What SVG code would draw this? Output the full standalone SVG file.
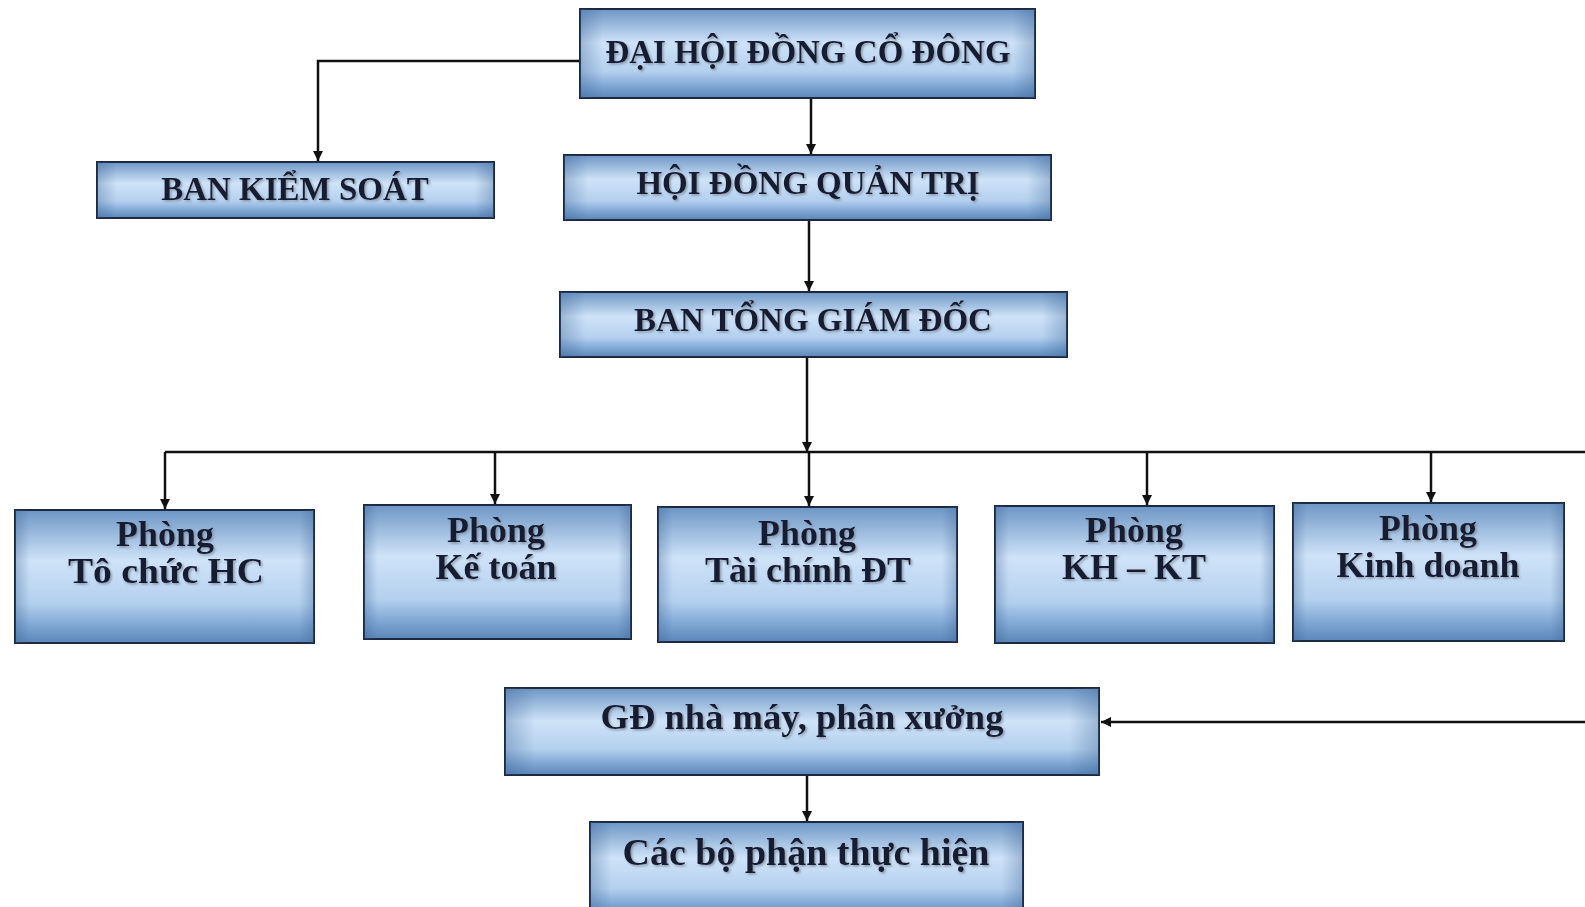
<svg xmlns="http://www.w3.org/2000/svg" width="1585" height="907" viewBox="0 0 1585 907">
<defs>
<linearGradient id="g" x1="0" y1="0" x2="0" y2="1">
<stop offset="0" stop-color="#6d96c5"/>
<stop offset="0.38" stop-color="#cfe3f8"/>
<stop offset="0.7" stop-color="#b4d0ee"/>
<stop offset="0.85" stop-color="#84abd7"/>
<stop offset="1" stop-color="#5b86b8"/>
</linearGradient>
<linearGradient id="h" x1="0" y1="0" x2="1" y2="0">
<stop offset="0" stop-color="#3a6294" stop-opacity="0.35"/>
<stop offset="0.05" stop-color="#3a6294" stop-opacity="0"/>
<stop offset="0.95" stop-color="#3a6294" stop-opacity="0"/>
<stop offset="1" stop-color="#3a6294" stop-opacity="0.35"/>
</linearGradient>
<filter id="sh" x="-5%" y="-20%" width="110%" height="140%">
<feDropShadow dx="1.5" dy="1.5" stdDeviation="0.8" flood-color="#7a8699" flood-opacity="0.8"/>
</filter>
<marker id="a" viewBox="0 0 10 10" refX="10" refY="5" markerWidth="10" markerHeight="10" markerUnits="userSpaceOnUse" orient="auto">
<path d="M0,0 L10,5 L0,10 z" fill="#111"/>
</marker>
</defs>
<style>
.box{fill:url(#g);stroke:#1d2940;stroke-width:2}
.ov{fill:url(#h);stroke:none}
.t{font-family:"Liberation Serif","Times New Roman",serif;font-weight:bold;fill:#141a33;text-anchor:middle;filter:url(#sh)}
.hd{font-size:33px}
.ph{font-size:36px}
.bg{font-size:38px}
.ln{fill:none;stroke:#111;stroke-width:2.5}
</style>
<rect width="1585" height="907" fill="#fff"/>
<g id="connectors">
<path class="ln" d="M580,61 H318 V161" marker-end="url(#a)"/>
<path class="ln" d="M811,98 V154" marker-end="url(#a)"/>
<path class="ln" d="M809,220 V291" marker-end="url(#a)"/>
<path class="ln" d="M807,357 V452" marker-end="url(#a)"/>
<path class="ln" d="M165,452 H1585"/>
<path class="ln" d="M165,452 V509" marker-end="url(#a)"/>
<path class="ln" d="M495,452 V504" marker-end="url(#a)"/>
<path class="ln" d="M809,452 V506" marker-end="url(#a)"/>
<path class="ln" d="M1147,452 V505" marker-end="url(#a)"/>
<path class="ln" d="M1431,452 V502" marker-end="url(#a)"/>
<path class="ln" d="M1585,722 H1101" marker-end="url(#a)"/>
<path class="ln" d="M807,775 V821" marker-end="url(#a)"/>
</g>
<g id="dhdcd">
<rect class="box" x="580" y="9" width="455" height="89"/>
<rect class="ov" x="580" y="9" width="455" height="89"/>
<text class="t hd" x="808" y="63">ĐẠI HỘI ĐỒNG CỔ ĐÔNG</text>
</g>
<g id="bks">
<rect class="box" x="97" y="162" width="397" height="56"/>
<rect class="ov" x="97" y="162" width="397" height="56"/>
<text class="t hd" x="295" y="200">BAN KIỂM SOÁT</text>
</g>
<g id="hdqt">
<rect class="box" x="564" y="155" width="487" height="65"/>
<rect class="ov" x="564" y="155" width="487" height="65"/>
<text class="t hd" x="808" y="194">HỘI ĐỒNG QUẢN TRỊ</text>
</g>
<g id="btgd">
<rect class="box" x="560" y="292" width="507" height="65"/>
<rect class="ov" x="560" y="292" width="507" height="65"/>
<text class="t hd" x="813" y="331">BAN TỔNG GIÁM ĐỐC</text>
</g>
<g id="p1">
<rect class="box" x="15" y="510" width="299" height="133"/>
<rect class="ov" x="15" y="510" width="299" height="133"/>
<text class="t ph" x="165" y="546">Phòng</text>
<text class="t ph" x="166" y="583" textLength="196" lengthAdjust="spacingAndGlyphs">Tô chức HC</text>
</g>
<g id="p2">
<rect class="box" x="364" y="505" width="267" height="134"/>
<rect class="ov" x="364" y="505" width="267" height="134"/>
<text class="t ph" x="496" y="542">Phòng</text>
<text class="t ph" x="496" y="579">Kế toán</text>
</g>
<g id="p3">
<rect class="box" x="658" y="507" width="299" height="135"/>
<rect class="ov" x="658" y="507" width="299" height="135"/>
<text class="t ph" x="807" y="545">Phòng</text>
<text class="t ph" x="808" y="582">Tài chính ĐT</text>
</g>
<g id="p4">
<rect class="box" x="995" y="506" width="279" height="137"/>
<rect class="ov" x="995" y="506" width="279" height="137"/>
<text class="t ph" x="1134" y="542">Phòng</text>
<text class="t ph" x="1134" y="579">KH – KT</text>
</g>
<g id="p5">
<rect class="box" x="1293" y="503" width="271" height="138"/>
<rect class="ov" x="1293" y="503" width="271" height="138"/>
<text class="t ph" x="1428" y="540">Phòng</text>
<text class="t ph" x="1428" y="577">Kinh doanh</text>
</g>
<g id="gd">
<rect class="box" x="505" y="688" width="594" height="87"/>
<rect class="ov" x="505" y="688" width="594" height="87"/>
<text class="t ph" x="802" y="729" textLength="403" lengthAdjust="spacingAndGlyphs">GĐ nhà máy, phân xưởng</text>
</g>
<g id="cbp">
<rect class="box" x="590" y="822" width="433" height="95"/>
<rect class="ov" x="590" y="822" width="433" height="95"/>
<text class="t bg" x="806" y="865">Các bộ phận thực hiện</text>
</g>
</svg>
